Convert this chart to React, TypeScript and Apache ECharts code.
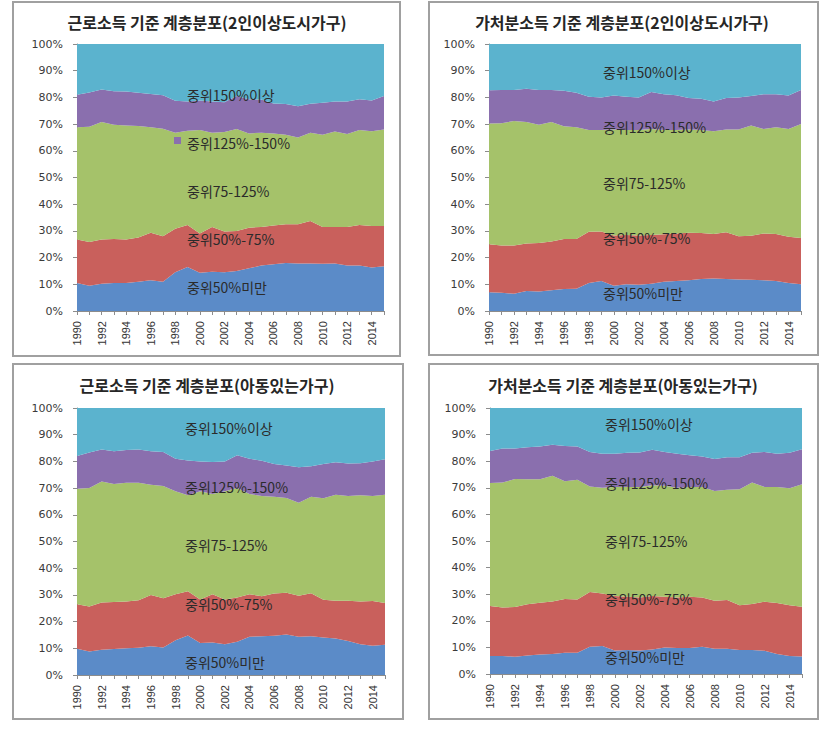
import React, { useEffect, useRef } from "react";
import * as echarts from "echarts";

const years = ["1990","1991","1992","1993","1994","1995","1996","1997","1998","1999","2000","2001","2002","2003","2004","2005","2006","2007","2008","2009","2010","2011","2012","2013","2014","2015"];
const layerNames = ["중위50%미만", "중위50%-75%", "중위75-125%", "중위125%-150%", "중위150%이상"];
const layerColors = ["#5B8BC8", "#C9605C", "#A5C26A", "#8A6FAE", "#5BB3CE"];
const yTicks = [0, 10, 20, 30, 40, 50, 60, 70, 80, 90, 100];

const titles = [
  "근로소득 기준 계층분포(2인이상도시가구)",
  "가처분소득 기준 계층분포(2인이상도시가구)",
  "근로소득 기준 계층분포(아동있는가구)",
  "가처분소득 기준 계층분포(아동있는가구)",
];

// Panel 1: 근로소득, 2인이상도시가구
const p1Below50 = [10.5, 9.5, 10.2, 10.5, 10.5, 11.0, 11.5, 11.0, 14.5, 16.5, 14.3, 14.7, 14.5, 15.0, 16.0, 17.0, 17.5, 18.0, 17.8, 17.8, 17.7, 17.8, 17.0, 17.0, 16.3, 16.8];
const p1M50to75 = [16.3, 16.3, 16.6, 16.5, 16.3, 16.5, 17.8, 17.0, 16.3, 15.7, 14.7, 16.8, 15.3, 15.0, 15.2, 14.5, 14.5, 14.5, 14.7, 15.9, 13.8, 13.7, 14.5, 15.2, 15.5, 15.0];
const p1M75to125 = [42.0, 43.2, 44.0, 42.8, 42.7, 41.8, 39.5, 40.3, 36.0, 35.3, 38.8, 35.3, 37.2, 38.2, 35.3, 35.3, 34.5, 33.5, 32.5, 33.1, 34.5, 35.7, 34.8, 35.6, 35.5, 36.2];
const p1M125to150 = [12.2, 12.8, 12.2, 12.5, 12.7, 12.4, 12.5, 12.5, 11.9, 11.0, 11.0, 11.7, 11.2, 12.3, 12.8, 12.4, 11.2, 11.5, 11.7, 10.8, 12.0, 11.3, 12.2, 11.5, 11.5, 12.5];
const p1Above150 = [19.0, 18.2, 17.0, 17.7, 17.8, 18.3, 18.7, 19.2, 21.3, 21.5, 21.2, 21.5, 21.8, 19.5, 20.7, 20.8, 22.3, 22.5, 23.3, 22.4, 22.0, 21.5, 21.5, 20.7, 21.2, 19.5];

// Panel 2: 가처분소득, 2인이상도시가구
const p2Below50 = [7.0, 6.8, 6.5, 7.5, 7.3, 7.8, 8.2, 8.3, 10.5, 11.2, 9.5, 10.0, 9.8, 10.2, 11.0, 11.2, 11.5, 12.0, 12.2, 12.0, 11.8, 11.7, 11.5, 11.2, 10.5, 10.0];
const p2M50to75 = [18.0, 17.7, 18.0, 17.8, 18.2, 18.2, 18.8, 18.7, 19.2, 18.6, 18.8, 18.5, 18.5, 18.3, 17.7, 17.8, 17.8, 17.2, 16.6, 17.5, 16.2, 16.5, 17.5, 17.6, 17.3, 17.3];
const p2M75to125 = [45.2, 45.8, 46.7, 45.5, 44.3, 44.8, 42.2, 41.8, 38.1, 38.0, 39.7, 39.3, 39.5, 39.7, 39.1, 38.8, 38.7, 38.6, 38.5, 38.5, 40.0, 41.3, 39.2, 40.0, 40.4, 42.7];
const p2M125to150 = [12.5, 12.5, 11.6, 12.4, 13.0, 12.0, 13.3, 12.9, 12.4, 12.2, 12.7, 12.4, 12.2, 13.8, 13.4, 13.0, 11.8, 11.7, 11.2, 11.8, 12.0, 11.0, 13.0, 12.4, 12.5, 12.8];
const p2Above150 = [17.3, 17.2, 17.2, 16.8, 17.2, 17.2, 17.5, 18.3, 19.8, 20.0, 19.3, 19.8, 20.0, 18.0, 18.8, 19.2, 20.2, 20.5, 21.5, 20.2, 20.0, 19.5, 18.8, 18.8, 19.3, 17.2];

// Panel 3: 근로소득, 아동있는가구
const p3Below50 = [9.8, 8.8, 9.5, 9.7, 10.0, 10.2, 10.8, 10.3, 13.0, 14.8, 12.0, 12.2, 11.5, 12.5, 14.3, 14.5, 14.7, 15.2, 14.3, 14.5, 14.0, 13.7, 12.7, 11.5, 11.0, 11.3];
const p3M50to75 = [16.7, 16.9, 17.7, 17.6, 17.5, 17.8, 19.2, 18.4, 17.2, 16.6, 16.3, 18.0, 16.8, 16.5, 15.9, 15.0, 15.8, 15.6, 15.4, 16.1, 14.2, 14.1, 15.1, 16.0, 16.7, 15.7];
const p3M75to125 = [43.3, 44.3, 45.3, 44.2, 44.5, 44.0, 41.3, 42.1, 38.6, 35.9, 40.5, 37.6, 40.5, 41.0, 37.6, 37.5, 36.3, 35.5, 34.8, 36.2, 38.0, 39.7, 39.2, 39.8, 39.3, 40.5];
const p3M125to150 = [12.2, 13.3, 12.0, 12.3, 12.3, 12.5, 12.5, 12.7, 12.2, 13.0, 11.2, 12.0, 11.2, 12.3, 13.2, 13.2, 12.2, 12.2, 13.3, 11.4, 12.8, 12.2, 12.2, 12.0, 13.0, 13.3];
const p3Above150 = [18.0, 16.7, 15.5, 16.2, 15.7, 15.5, 16.2, 16.5, 19.0, 19.7, 20.0, 20.2, 20.0, 17.7, 19.0, 19.8, 21.0, 21.5, 22.2, 21.8, 21.0, 20.3, 20.8, 20.7, 20.0, 19.2];

// Panel 4: 가처분소득, 아동있는가구
const p4Below50 = [6.8, 6.8, 6.5, 7.0, 7.3, 7.5, 8.0, 8.0, 10.2, 10.5, 8.8, 9.0, 8.8, 9.2, 10.0, 9.8, 9.8, 10.2, 9.5, 9.5, 9.0, 9.0, 8.7, 7.5, 6.8, 6.6];
const p4M50to75 = [18.8, 18.2, 18.7, 19.2, 19.5, 19.8, 20.2, 20.0, 20.6, 19.8, 20.5, 20.0, 20.0, 20.1, 19.0, 19.0, 19.2, 18.6, 18.0, 18.3, 16.8, 17.3, 18.5, 19.2, 19.0, 18.7];
const p4M75to125 = [46.2, 47.0, 48.1, 47.0, 46.4, 47.2, 44.3, 45.0, 39.7, 39.7, 41.0, 41.3, 41.5, 41.7, 41.8, 41.2, 41.3, 41.5, 41.3, 41.5, 43.7, 45.7, 43.1, 43.6, 44.0, 46.0];
const p4M125to150 = [12.0, 12.8, 11.5, 12.0, 12.3, 11.7, 13.2, 12.5, 13.0, 12.8, 12.5, 12.9, 13.0, 13.3, 12.7, 12.8, 11.9, 11.5, 12.0, 12.2, 12.0, 11.2, 13.2, 12.5, 13.4, 13.2];
const p4Above150 = [16.2, 15.2, 15.2, 14.8, 14.5, 13.8, 14.3, 14.5, 16.5, 17.2, 17.2, 16.8, 16.7, 15.7, 16.5, 17.2, 17.8, 18.2, 19.2, 18.5, 18.5, 16.8, 16.5, 17.2, 16.8, 15.5];

const panelData = [
  [p1Below50, p1M50to75, p1M75to125, p1M125to150, p1Above150],
  [p2Below50, p2M50to75, p2M75to125, p2M125to150, p2Above150],
  [p3Below50, p3M50to75, p3M75to125, p3M125to150, p3Above150],
  [p4Below50, p4M50to75, p4M75to125, p4M125to150, p4Above150],
];

// layout (pixels)
const grids = [
  { left: 77, top: 44, width: 307, height: 267 },
  { left: 489, top: 44, width: 312, height: 267 },
  { left: 77, top: 408, width: 308, height: 267 },
  { left: 490, top: 408, width: 312, height: 266 },
];
const borders = [
  { x: 13, y: 2, w: 387, h: 354 },
  { x: 429, y: 2, w: 389, h: 353 },
  { x: 13, y: 364, w: 390, h: 355 },
  { x: 429, y: 364, w: 389, h: 355 },
];
const titlePos = [
  { x: 207, y: 22 },
  { x: 622, y: 22 },
  { x: 207, y: 385 },
  { x: 623, y: 385 },
];
// label anchor x and y per layer (top to bottom: 150+, 125-150, 75-125, 50-75, <50)
const labelPos = [
  { x: 187, ys: [95, 143, 191, 239, 287] },
  { x: 603, ys: [72, 127, 183, 238, 293] },
  { x: 185, ys: [428, 487, 545, 604, 662] },
  { x: 605, ys: [424, 483, 541, 599, 657] },
];

export default function App() {
  const ref = useRef<HTMLDivElement>(null);
  useEffect(() => {
    if (!ref.current) return;
    const chart = echarts.init(ref.current, null, { renderer: "svg" });
    const font = "'Noto Sans CJK KR', 'Noto Sans', sans-serif";

    const xAxis = grids.map((_, i) => ({
      type: "category",
      gridIndex: i,
      data: years,
      boundaryGap: false,
      axisLine: { lineStyle: { color: "#8c8c8c", width: 1 } },
      axisTick: { show: true, interval: 0, length: 4, lineStyle: { color: "#8c8c8c" } },
      axisLabel: { interval: 1, rotate: 90, fontSize: 11, color: "#333", margin: 10, fontFamily: "'Liberation Sans', Arial, sans-serif" },
      splitLine: { show: false },
      z: 5,
    }));
    const yAxis = grids.map((_, i) => ({
      type: "value",
      gridIndex: i,
      min: yTicks[0],
      max: yTicks[yTicks.length - 1],
      interval: 10,
      axisLine: { show: true, lineStyle: { color: "#8c8c8c" } },
      axisTick: { show: true, length: 4, lineStyle: { color: "#8c8c8c" } },
      axisLabel: { formatter: "{value}%", fontSize: 11, color: "#3a3a3a", margin: 14, fontFamily: "'DejaVu Sans', Verdana, sans-serif" },
      splitLine: { show: false },
    }));

    const series: any[] = [];
    panelData.forEach((layers, p) => {
      layers.forEach((vals, l) => {
        series.push({
          name: layerNames[l],
          type: "line",
          xAxisIndex: p,
          yAxisIndex: p,
          stack: "panel" + p,
          data: vals,
          symbol: "none",
          lineStyle: { width: 0 },
          areaStyle: { color: layerColors[l], opacity: 1 },
          silent: true,
        });
      });
    });

    const graphic: any[] = [];
    borders.forEach((b) => {
      graphic.push({
        type: "rect",
        shape: { x: b.x, y: b.y, width: b.w, height: b.h },
        style: { fill: "none", stroke: "#a0a0a0", lineWidth: 2 },
        z: 100,
      });
    });
    titlePos.forEach((t, i) => {
      graphic.push({
        type: "text",
        x: t.x,
        y: t.y,
        style: {
          text: titles[i],
          fontSize: 16,
          fontWeight: "bold",
          fill: "#262626",
          align: "center",
          verticalAlign: "middle",
          fontFamily: font,
        },
        z: 100,
      });
    });
    const labelOrder = [4, 3, 2, 1, 0];
    labelPos.forEach((lp) => {
      lp.ys.forEach((y, k) => {
        graphic.push({
          type: "text",
          x: lp.x,
          y,
          style: {
            text: layerNames[labelOrder[k]],
            fontSize: 14,
            fill: "#2b2b2b",
            align: "left",
            verticalAlign: "middle",
            fontFamily: font,
          },
          z: 100,
        });
      });
    });
    // legend key square in panel 1
    graphic.push({
      type: "rect",
      shape: { x: 174, y: 137, width: 7, height: 7 },
      style: { fill: layerColors[3] },
      z: 100,
    });

    chart.setOption({
      animation: false,
      backgroundColor: "#ffffff",
      grid: grids.map((g) => ({ ...g, containLabel: false })),
      xAxis,
      yAxis,
      series,
      graphic,
    });
    return () => chart.dispose();
  }, []);
  return <div ref={ref} style={{ position: "absolute", left: 0, top: 0, width: 837, height: 731 }} />;
}
